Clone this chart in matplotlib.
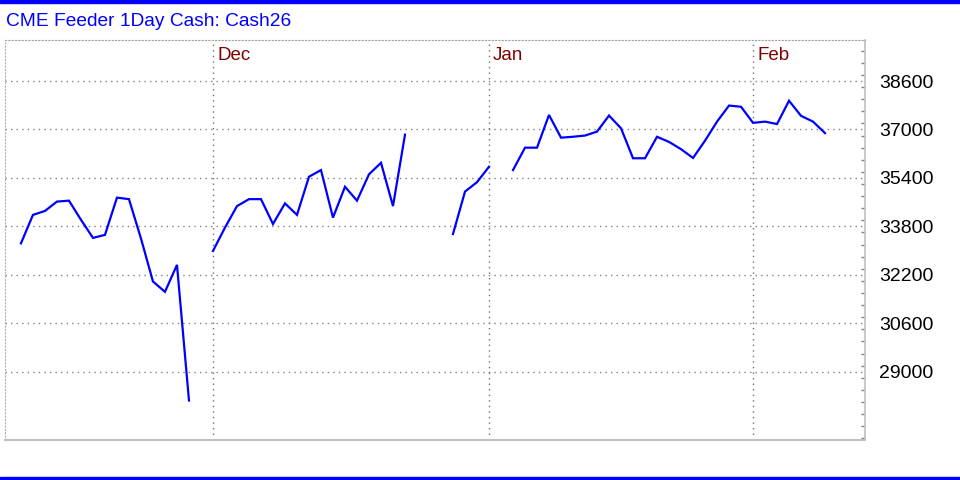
# CME Feeder 1Day Cash: Cash26 - 일봉 라인 차트 재현
import numpy as np
import pandas as pd
import matplotlib
matplotlib.use("Agg")
import matplotlib.pyplot as plt
from matplotlib.patches import Rectangle
from matplotlib.ticker import MultipleLocator, FixedLocator

plt.rcParams["font.family"] = ["Liberation Sans", "DejaVu Sans"]

# 평일 날짜 (휴일은 None 으로 비워둠)
dates = pd.bdate_range("2025-11-07", "2026-02-10")

seg_nov = [33240, 34180, 34310, 34620, 34650, 34020, 33420, 33520,
           34750, 34700, 33400, 31980, 31640, 32530, 28050]
seg_dec = [32990, 33760, 34470, 34700, 34700, 33880, 34560, 34180, 35440,
           35660, 34090, 35110, 34650, 35520, 35900, 34470, 36830]
seg_yend = [33550, 34950, 35260, 35770]
seg_jan = [35660, 36400, 36400, 37480, 36730, 36760, 36800, 36930, 37460,
           37040, 36050, 36050, 36760, 36590, 36350, 36060, 36630, 37260,
           37790, 37750, 37220, 37260, 37180, 37950, 37450, 37260, 36880]

cash = seg_nov + [None] + seg_dec + [None] * 3 + seg_yend + [None] + seg_jan
cash = np.array([np.nan if v is None else v for v in cash], dtype=float)

y_major = [29000, 30600, 32200, 33800, 35400, 37000, 38600]
month_names = ["Dec", "Jan", "Feb"]

x = np.arange(len(dates))

fig = plt.figure(figsize=(9.6, 4.8), dpi=100)
ax = fig.add_axes([5 / 960, 40 / 480, 860 / 960, 400 / 480])

ax.plot(x, cash, color="#0000ff", linewidth=1.6, solid_joinstyle="miter")

ax.set_xlim(-1.33, 70.33)
ax.set_ylim(26747, 39955)

# 오른쪽 y축
ax.yaxis.tick_right()
ax.yaxis.set_major_locator(FixedLocator(y_major))
ax.yaxis.set_minor_locator(MultipleLocator(400))
ax.tick_params(axis="y", which="major", length=0, pad=10, labelsize=14,
               labelcolor="black")
ax.tick_params(axis="y", which="minor", direction="in", length=3,
               color="#808080", width=1)
ax.set_xticks([])

# 가로 격자선
for v in y_major:
    ax.axhline(v, color="#808080", linewidth=1, linestyle=(0, (1, 3)), zorder=0)

# 월 구분선 + 라벨
for name in month_names:
    m = {"Dec": 12, "Jan": 1, "Feb": 2}[name]
    idx = np.where(dates.month == m)[0][0]
    ax.axvline(idx, ymax=0.995, color="#707070", linewidth=1,
               linestyle=(0, (1, 3)), zorder=0)
    ax.annotate(name, xy=(idx, 1), xycoords=("data", "axes fraction"),
                xytext=(3, -11.5), textcoords="offset points",
                color="#800000", fontsize=13.5, va="center", ha="left")

# 테두리
ax.spines["top"].set_color("#a0a0a0")
ax.spines["top"].set_linestyle((0, (1, 2)))
ax.spines["left"].set_color("#b0b0b0")
ax.spines["left"].set_linestyle((0, (1, 2)))
ax.spines["bottom"].set_color("#c0c0c0")
ax.spines["bottom"].set_linewidth(1.5)
ax.spines["right"].set_color("#c0c0c0")
ax.spines["right"].set_linewidth(1.2)

# 제목과 위/아래 파란 띠
fig.text(6 / 960, 1 - 21 / 480, "CME Feeder 1Day Cash: Cash26",
         color="#0000ff", fontsize=13.8, va="center", ha="left")
fig.add_artist(Rectangle((0, 1 - 3 / 480), 1, 3 / 480,
                         transform=fig.transFigure, color="#0000ff"))
fig.add_artist(Rectangle((0, 0), 1, 3 / 480,
                         transform=fig.transFigure, color="#0000ff"))

plt.savefig("out.png", dpi=100)
